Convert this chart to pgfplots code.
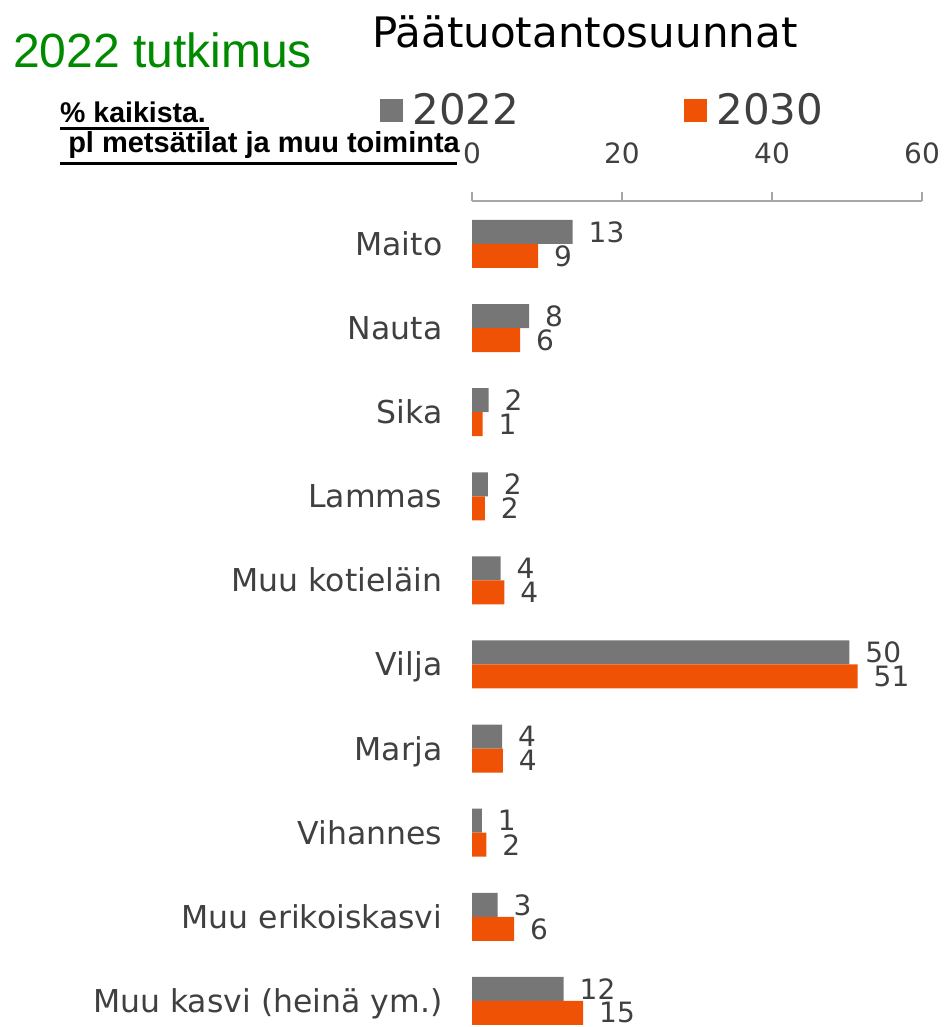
\documentclass[border=0pt]{standalone}
\usepackage{pgfplots}
\pgfplotsset{compat=1.18}
\usepackage{fontspec}
\setmainfont{DejaVu Sans}
\newfontfamily\arialfont{Liberation Sans}

\definecolor{bargray}{RGB}{118,118,118}
\definecolor{barorange}{RGB}{240,82,5}
\definecolor{txtgray}{RGB}{64,64,64}
\definecolor{axgray}{RGB}{166,166,166}
\definecolor{titlegreen}{RGB}{0,138,0}

\newcommand{\fs}[1]{\fontsize{#1pt}{#1pt}\selectfont}

\begin{document}
\begin{tikzpicture}
\path[use as bounding box] (0,0) rectangle (948pt,-1027pt);
\begin{axis}[
    at={(472pt,-201pt)}, anchor=north west,
    scale only axis,
    width=450pt, height=826pt,
    xmin=0, xmax=60,
    ymin=-0.51, ymax=9.31,
    y dir=reverse,
    axis x line*=top,
    axis y line*=left,
    x axis line style={-, draw=axgray, line width=1.2pt},
    y axis line style={draw=none},
    xtick={0,20,40,60},
    tick align=outside,
    major tick length=9.5pt,
    xtick style={draw=axgray, line width=1.2pt},
    /pgf/number format/assume math mode=true,
    xticklabel style={anchor=base, yshift=27.7pt, inner sep=0pt, font=\fs{28}, text=txtgray},
    ytick={0,...,9},
    yticklabels={Maito, Nauta, Sika, Lammas, Muu kotieläin, Vilja, Marja, Vihannes, Muu erikoiskasvi, Muu kasvi (heinä ym.)},
    yticklabel style={anchor=base east, xshift=-20pt, yshift=-11.5pt, inner sep=0pt, font=\fs{31.5}, text=txtgray},
    ytick style={draw=none},
    xbar, bar width=24pt,
    point meta=explicit symbolic,
    nodes near coords,
    nodes near coords style={anchor=west, xshift=16pt, inner sep=0pt, font=\fs{28}, text=txtgray},
    legend columns=2,
    legend style={at={(axis description cs:-0.204,1)}, anchor=west, yshift=91pt,
        draw=none, fill=none, inner sep=0pt, font=\fs{42}, text=txtgray,
        /tikz/every even column/.append style={column sep=156pt},
        nodes={inner xsep=9pt}},
    legend image code/.code={\fill (0pt,-11.5pt) rectangle (23pt,11.5pt);},
]
\addplot[fill=bargray, draw=none, bar shift=12pt] coordinates {
    (13.4,0) [13]
    (7.6,1) [8]
    (2.2,2) [2]
    (2.1,3) [2]
    (3.8,4) [4]
    (50.3,5) [50]
    (4.0,6) [4]
    (1.3,7) [1]
    (3.4,8) [3]
    (12.2,9) [12]
};
\addplot[fill=barorange, draw=none, bar shift=-12pt] coordinates {
    (8.8,0) [9]
    (6.4,1) [6]
    (1.4,2) [1]
    (1.7,3) [2]
    (4.3,4) [4]
    (51.4,5) [51]
    (4.1,6) [4]
    (1.9,7) [2]
    (5.6,8) [6]
    (14.8,9) [15]
};
\legend{2022, 2030}
\end{axis}
% headings
\node[anchor=base west, inner sep=0pt, font=\fs{42}] at (372pt,-48pt) {Päätuotantosuunnat};
\node[anchor=base west, inner sep=0pt, text=titlegreen, font=\arialfont\fs{48}] at (13pt,-68pt) {2022 tutkimus};
\node[anchor=base west, inner sep=0pt, font=\arialfont\bfseries\fs{28.5}] at (60pt,-123pt) {\% kaikista.};
\node[anchor=base west, inner sep=0pt, font=\arialfont\bfseries\fs{29}] at (60pt,-153pt) {\ pl metsätilat ja muu toiminta};
\draw[line width=2.8pt] (60pt,-128.5pt) -- (209pt,-128.5pt);
\draw[line width=3.2pt] (60pt,-163.5pt) -- (457pt,-163.5pt);
\end{tikzpicture}
\end{document}
